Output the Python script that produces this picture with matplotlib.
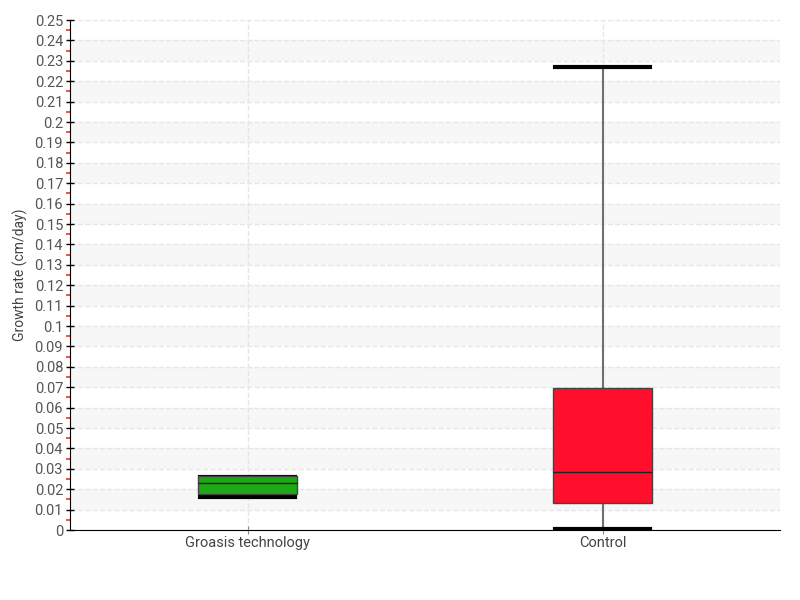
import matplotlib
matplotlib.use('Agg')
import matplotlib.pyplot as plt
import numpy as np

categories = ['Groasis technology', 'Control']
box_colors = ['#1fa815', '#ff0f2b']
whislo = [0.0162, 0.0005]
q1 = [0.0176, 0.0132]
med = [0.0230, 0.0284]
q3 = [0.0265, 0.0696]
whishi = [0.0258, 0.2270]

plt.rcParams['font.family'] = ['Roboto', 'DejaVu Sans']

fig = plt.figure(figsize=(8, 6), dpi=100)
ax = fig.add_axes([70 / 800, 70 / 600, 710 / 800, 510 / 600])

positions = [0.5, 1.5]
stats = []
for i in range(len(categories)):
    stats.append(dict(label=categories[i], whislo=whislo[i], q1=q1[i], med=med[i],
                      q3=q3[i], whishi=whishi[i], fliers=[]))

bp = ax.bxp(stats, positions=positions, widths=0.28, capwidths=0.27,
            patch_artist=True, showfliers=False,
            boxprops=dict(edgecolor='#444444', linewidth=1),
            medianprops=dict(color='#222222', linewidth=1),
            whiskerprops=dict(color='#707070', linewidth=1.5),
            capprops=dict(color='black', linewidth=3))
for patch, c in zip(bp['boxes'], box_colors):
    patch.set_facecolor(c)
    patch.set_zorder(4)
for m in bp['medians']:
    m.set_zorder(5)
for w in bp['whiskers'] + bp['caps']:
    w.set_zorder(3)

ax.set_xlim(0, 2)
ax.set_ylim(0, 0.25)

# alternating bands
for k in range(1, 25, 2):
    ax.axhspan(k * 0.01, (k + 1) * 0.01, color='#f7f7f7', zorder=0, lw=0)

yt = np.round(np.arange(0, 0.2501, 0.01), 2)
ax.set_yticks(yt)
ax.set_yticklabels(['0' if v == 0 else ('%g' % v) for v in yt])
ax.set_yticks(np.arange(0.005, 0.25, 0.01), minor=True)
ax.tick_params(axis='y', which='major', direction='inout', length=6, width=1,
               color='black', labelsize=10.5, labelcolor='#555555', pad=2)
ax.tick_params(axis='y', which='minor', direction='out', length=3, width=1.2, color='#ee3333')
ax.set_xticks(positions)
ax.set_xticklabels(categories)
ax.tick_params(axis='x', direction='inout', length=6, color='#888888',
               labelsize=10.5, labelcolor='#444444', pad=1)

ax.grid(True, axis='both', which='major', linestyle='--', color='#e6e6e6', linewidth=1, zorder=1)
ax.set_axisbelow(True)

ax.spines['right'].set_color('none')
ax.spines['top'].set_color('none')
ax.spines['left'].set_color('black')
ax.spines['bottom'].set_color('black')

ax.set_ylabel('Growth rate (cm/day)', fontsize=10, color='#444444')
ax.yaxis.set_label_coords(-0.059, 0.5)

fig.savefig('out.png', dpi=100)
